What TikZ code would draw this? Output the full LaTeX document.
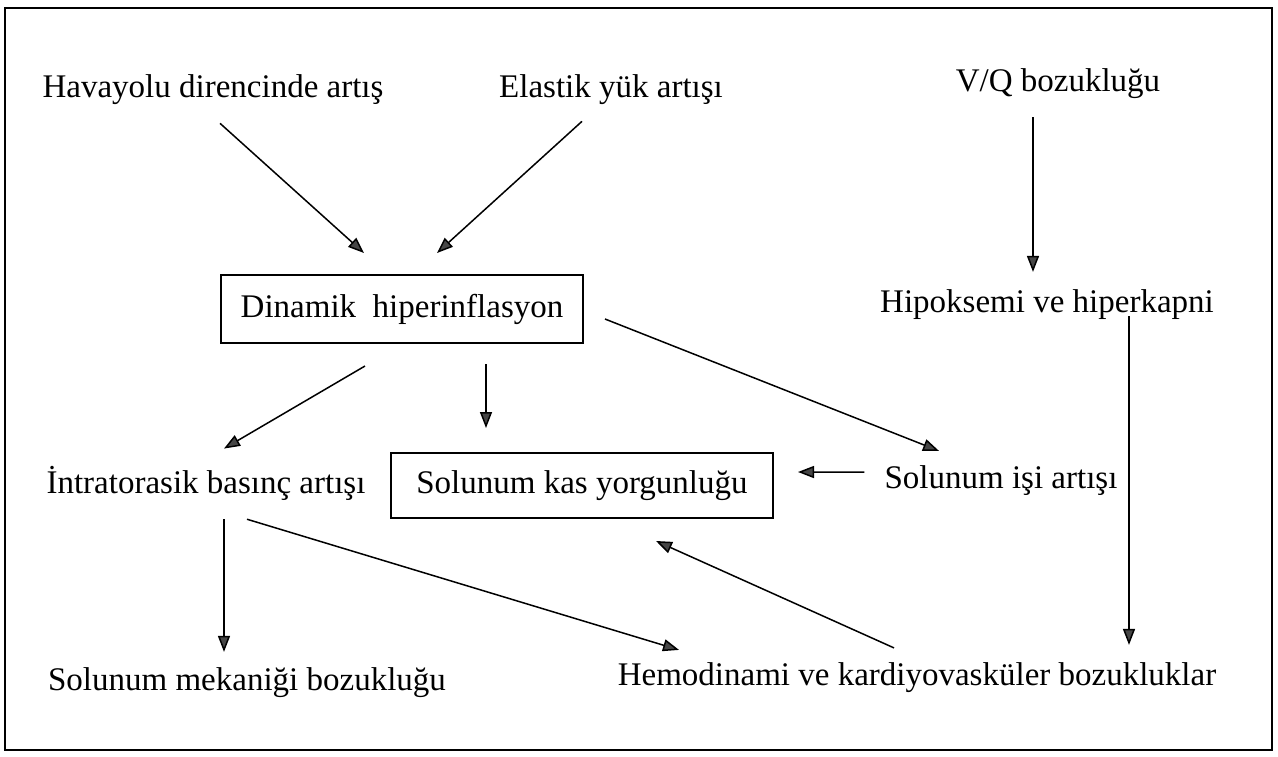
\documentclass[tikz,border=0pt]{standalone}
\usepackage{fontspec}
\setmainfont{Liberation Serif}
\usepackage{tikz}
\tikzstyle{block}=[draw, line width=2pt, inner sep=0pt]
\tikzstyle{txt}=[inner sep=0pt, anchor=base]
\tikzstyle{arrow}=[line width=1.5pt,-{Triangle[length=16pt,width=12pt,fill=gray!55!black]}]
\usetikzlibrary{arrows.meta,positioning,calc}
\begin{document}
\begin{tikzpicture}[x=1pt,y=-1pt,font=\fontsize{33pt}{40pt}\selectfont]
\useasboundingbox (0,0) rectangle (1278,756);
\draw[line width=1.6pt] (5,8) rectangle (1272,750);
% top row
\node (hava) [txt] at (213,97) {Havayolu direncinde artış};
\node (elastik) [txt] at (611,97) {Elastik yük artışı};
\node (vq) [txt] at (1058,91) {V/Q bozukluğu};
% middle
\node (dinamik) [block,minimum width=362pt,minimum height=68pt] at (402,309) {Dinamik~ hiperinflasyon};
\node (hipo) [txt] at (1047,312) {Hipoksemi ve hiperkapni};
\node (intra) [txt] at (206,493) {İntratorasik basınç artışı};
\node (kas) [block,minimum width=382pt,minimum height=65pt] at (582,485.5) {Solunum kas yorgunluğu};
\node (isi) [txt] at (1001,488) {Solunum işi artışı};
% bottom row
\node (mekanik) [txt] at (247,690) {Solunum mekaniği bozukluğu};
\node (hemo) [txt] at (917,685) {Hemodinami ve kardiyovasküler bozukluklar};
% arrows
\draw[arrow] ($(hava.south)+(7,19)$)--($(dinamik.north)+(-38,-21)$);
\draw[arrow] ($(elastik.south)+(-29,17)$)--($(dinamik.north)+(35,-21)$);
\draw[arrow] ($(vq.south)+(-25,19)$)--($(hipo.north)+(-14,-17)$);
\draw[arrow] ($(hipo.south)+(82,-3)$)--($(hemo.north)+(212,-17)$);
\draw[arrow] ($(dinamik.east)+(21,10)$)--($(isi.north)+(-62,-14)$);
\draw[arrow] ($(dinamik.south)+(-37,22)$)--($(intra.north)+(18,-17)$);
\draw[arrow] ($(dinamik.south)+(84,20)$)--($(kas.north)+(-96,-24)$);
\draw[arrow] ($(isi.west)+(-20,-8)$)--($(kas.east)+(24,-13.5)$);
\draw[arrow] ($(intra.south)+(18,19)$)--($(mekanik.north)+(-23,-15)$);
\draw[arrow] ($(intra.south)+(41,19)$)--($(hemo.north)+(-238,-12)$);
\draw[arrow] ($(hemo.north)+(-23,-14)$)--($(kas.south)+(74,22)$);
\end{tikzpicture}
\end{document}
